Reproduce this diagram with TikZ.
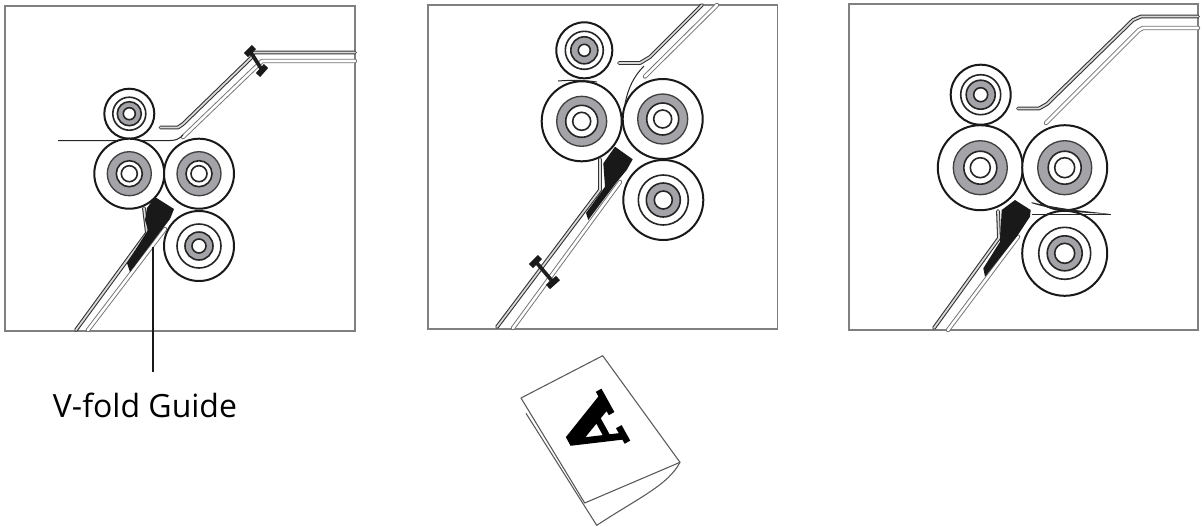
\documentclass[tikz,border=0pt]{standalone}
\usepackage{fontspec}
\setmainfont{Open Sans}
\newfontfamily\serifb[BoldFeatures={FakeBold=3}]{DejaVu Serif}
\definecolor{rollgray}{HTML}{A4A4A8}
\definecolor{framegray}{HTML}{808080}
\tikzset{
  frameline/.style={draw=framegray,line width=1.2pt},
  rimline/.style={draw=black!90,line width=1.5pt},
  midline/.style={draw=black!85,line width=1.2pt},
  thinline/.style={draw=black!75,line width=1pt},
  tube/.style={draw=black!80,double=white!85!black,double distance=1.3pt,line width=0.8pt,line cap=round,line join=round},
  pale/.style={draw=black!55,double=white,double distance=1.9pt,line width=0.7pt,line cap=round,line join=round},
  sheet/.style={draw=black!85,line width=0.75pt},
  guideshape/.style={fill=black!90,draw=none},
  clampbar/.style={draw=black!88,line width=2.8pt},
  clampcap/.style={draw=black!90,line width=4.4pt},
  cover/.style={draw=black!65,line width=0.8pt,line join=round},
}
\newcommand{\rollA}[6]{%
  \draw[rimline,fill=white] (#1,#2) circle[radius=#3];
  \draw[thinline,fill=rollgray] (#1,#2) circle[radius=#4];
  \draw[midline,fill=white] (#1,#2) circle[radius=#5];
  \draw[midline,fill=white] (#1,#2) circle[radius=#6];}
\newcommand{\rollB}[6]{%
  \draw[rimline,fill=white] (#1,#2) circle[radius=#3];
  \draw[midline,fill=white] (#1,#2) circle[radius=#4];
  \draw[midline,fill=rollgray] (#1,#2) circle[radius=#5];
  \draw[midline,fill=white] (#1,#2) circle[radius=#6];}
\begin{document}
\begin{tikzpicture}[x=0.75pt,y=-0.75pt]
\useasboundingbox (0,0) rectangle (1203,526);
% ---------- panel 1
\draw[frameline] (5,6) rectangle (355,331);
\draw[tube] (160.5,127.5) -- (178,127.5) -- (183,124) -- (251,58) -- (254,52.5) -- (355,52.5);
\draw[pale] (183,137) -- (260,63) -- (262,61) -- (355,61);
\draw[sheet] (58,140.5) -- (170,140.5) .. controls (176,140.5) and (179,139) .. (183,135);
\rollB{129.3}{113.7}{25}{16.5}{12}{6}
\rollA{129.3}{173.7}{35}{22}{13}{8}
\rollA{199}{173.7}{35}{22}{13}{8}
\rollB{199}{246}{35}{22}{14}{7}
\draw[tube] (76,330) -- (147,233) -- (144,208);
\draw[pale] (88,330) -- (165,229);
\fill[guideshape] (155,197) -- (174,209) -- (170,219) -- (157,236) -- (130,272) -- (127,263) -- (148,230) -- (145,220) -- (147,208) -- cycle;
\draw[clampbar] (250,51) -- (262,70);
\draw[clampcap] (246,55) -- (254,47);
\draw[clampcap] (258,75) -- (266,66);
\coordinate (guidetip) at (153,247);
\coordinate (labeltop) at (153,372);
\draw[line width=1.2pt,draw=black!90] (guidetip) -- (labeltop);
\node[font=\fontsize{24pt}{26pt}\selectfont,anchor=center] (label) at (145,405) {V-fold Guide};
% ---------- panel 2
\draw[frameline] (428,5) rectangle (777.5,329);
\draw[tube] (619,63) -- (640,63) -- (650,57) -- (702,5);
\draw[pale] (645,76.5) -- (717,5);
\rollB{584.3}{50.3}{28}{19}{13.5}{6}
\rollA{581.7}{121.3}{40}{25}{16}{9}
\rollA{662.7}{119}{40}{25}{16}{9}
\rollB{663.3}{200}{40}{25}{17}{9}
\draw[sheet] (558,81) .. controls (570,80) and (585,80) .. (597,82);
\draw[sheet] (625,104) .. controls (628,88) and (634,76) .. (644,66);
\draw[tube] (497,327) -- (600,190) -- (600,159);
\draw[pale] (513,328) -- (620,182);
\fill[guideshape] (615,146.7) -- (632.7,159.3) -- (626.7,170) -- (617,181.7) -- (588.3,220) -- (586,213) -- (605,186.7) -- (603.3,163.3) -- cycle;
\draw[clampbar] (536,262) -- (553,282);
\draw[clampcap] (531,266) -- (540,257);
\draw[clampcap] (548,287) -- (558,278);
% ---------- panel 3
\draw[frameline] (849,4) rectangle (1198,330);
\draw[tube] (1018,108.5) -- (1039,108.5) -- (1047,104) -- (1133,20) -- (1141,16.5) -- (1198,16.5);
\draw[pale] (1046,123) -- (1139,30) -- (1143,28) -- (1198,28);
\rollB{980.7}{94.7}{30}{20}{14.5}{7}
\rollA{980.3}{167.7}{42.5}{27}{16.5}{10}
\rollA{1064.7}{167.7}{42.5}{27}{16.5}{10}
\rollB{1064.7}{253.3}{42.5}{26}{17.5}{10}
\draw[tube] (934,328) -- (999,238) -- (998,211);
\draw[pale] (948,330) -- (1018,236.7);
\fill[guideshape] (1015,200) -- (1030.7,210) -- (1030,216.7) -- (1016.7,236.7) -- (985,276.7) -- (983.3,268.3) -- (1000,241.7) -- (1001.7,210) -- cycle;
\draw[sheet] (1031.7,214) -- (1110.7,214);
\fill[black!85] (1031.7,202.2) .. controls (1060,209) and (1085,211) .. (1110,214) .. controls (1085,213) and (1060,212) .. (1031.7,203.2) -- cycle;
% ---------- folded sheet
\draw[cover,fill=white] (526,413.3) -- (596.7,525.3) .. controls (640,497) and (668,485) .. (680,462.3);
\draw[cover,fill=white] (521,398) -- (602.7,355.7) -- (680,462.3) -- (584.7,503) -- cycle;
\node[font=\serifb\bfseries\fontsize{54pt}{54pt}\selectfont,rotate=119,inner sep=0pt] (letter) at (592,428) {A};
\end{tikzpicture}
\end{document}
